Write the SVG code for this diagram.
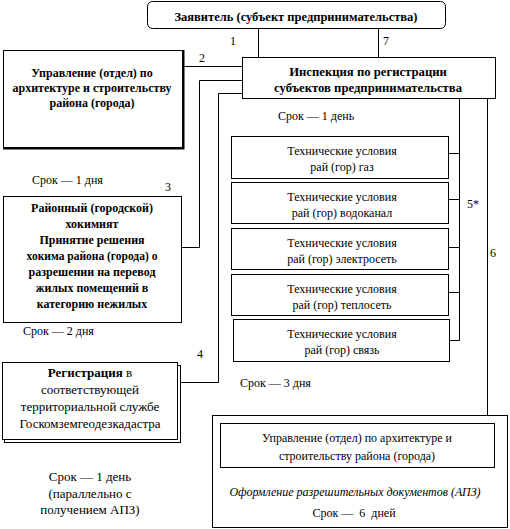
<svg xmlns="http://www.w3.org/2000/svg" width="510" height="529" viewBox="0 0 510 529">
<style>
.box{fill:#fff;stroke:#000;stroke-width:1}
.ln{fill:none;stroke:#000;stroke-width:1}
.th{fill:none;stroke:#000;stroke-width:2}
text{font-family:'Liberation Serif','Times New Roman',serif;font-size:12px;fill:#000}
.b{font-weight:bold}
.c{text-anchor:middle}
.l{font-size:13px}
.i{font-style:italic}
</style>
<rect width="510" height="529" fill="#fff"/>
<g id="connectors">
<path class="ln" d="M258.5 29V57M378.5 29V57"/>
<path class="ln" d="M183 66.5H242"/>
<path class="ln" d="M242 80.5H199.5V247.5H182"/>
<path class="ln" d="M242 93.5H218.5V382.5H181"/>
<path class="ln" d="M459.5 99V340.5M449 153.5H459.5M449 199.5H459.5M449 247.5H459.5M449 292.5H459.5M450 340.5H459.5"/>
<path class="ln" d="M487.5 99V415"/>
<text x="230" y="45">1</text>
<text x="383" y="45">7</text>
<text x="199" y="62">2</text>
<text x="165" y="191">3</text>
<text x="197" y="358">4</text>
<text x="467" y="208">5*</text>
<text x="490" y="257">6</text>
</g>
<g id="applicant">
<rect class="box" x="147.5" y="1.5" width="298" height="27" rx="5"/>
<text class="b c" x="296" y="21" style="font-size:12.5px">Заявитель (субъект предпринимательства)</text>
</g>
<g id="inspection">
<rect class="box" x="242.5" y="57.5" width="253" height="41"/>
<text class="b c" x="368" y="76" style="font-size:12.7px">Инспекция по регистрации</text>
<text class="b c" x="368" y="92" style="font-size:12.7px">субъектов предпринимательства</text>
<text x="278" y="120">Срок — 1 день</text>
</g>
<g id="arch-left">
<rect class="box" x="3.5" y="50.5" width="179" height="97"/>
<path class="th" d="M183.5 50V148.5H3"/>
<text class="b c" x="92" y="77">Управление (отдел) по</text>
<text class="b c" x="92" y="92">архитектуре и строительству</text>
<text class="b c" x="92" y="107">района (города)</text>
<text x="32" y="184">Срок — 1 дня</text>
</g>
<g id="hokimiyat">
<rect class="box" x="3.5" y="196.5" width="178" height="126"/>
<text class="b c" x="92" y="212">Районный (городской)</text>
<text class="b c" x="92" y="228">хокимият</text>
<text class="b c" x="92" y="244">Принятие решения</text>
<text class="b c" x="92" y="260" style="font-size:11.5px">хокима района (города) о</text>
<text class="b c" x="92" y="276">разрешении на перевод</text>
<text class="b c" x="92" y="292">жилых помещений в</text>
<text class="b c" x="92" y="308">категорию нежилых</text>
<text x="23" y="335">Срок — 2 дня</text>
</g>
<g id="registration">
<rect class="box" x="4.5" y="365.5" width="176" height="77"/>
<rect class="box" x="2.5" y="362.5" width="175" height="77"/>
<text class="c l" x="90" y="377"><tspan class="b">Регистрация</tspan> в</text>
<text class="c l" x="90" y="394">соответствующей</text>
<text class="c l" x="90" y="411">территориальной службе</text>
<text class="c l" x="90" y="428">Госкомземгеодезкадастра</text>
<text class="c l" x="90" y="481">Срок — 1 день</text>
<text class="c l" x="90" y="498">(параллельно с</text>
<text class="c l" x="90" y="514">получением АПЗ)</text>
</g>
<g id="tu-gas">
<rect class="box" x="231.5" y="136.5" width="217" height="42"/>
<text class="c" x="342" y="155">Технические условия</text>
<text class="c" x="342" y="171">рай (гор) газ</text>
</g>
<g id="tu-water">
<rect class="box" x="231.5" y="182.5" width="217" height="41"/>
<text class="c" x="342" y="201">Технические условия</text>
<text class="c" x="342" y="217">рай (гор) водоканал</text>
</g>
<g id="tu-elec">
<rect class="box" x="231.5" y="228.5" width="217" height="41"/>
<text class="c" x="342" y="247">Технические условия</text>
<text class="c" x="342" y="263">рай (гор) электросеть</text>
</g>
<g id="tu-heat">
<rect class="box" x="231.5" y="274.5" width="217" height="41"/>
<text class="c" x="342" y="293">Технические условия</text>
<text class="c" x="342" y="309">рай (гор) теплосеть</text>
</g>
<g id="tu-comm">
<rect class="box" x="233.5" y="319.5" width="216" height="42"/>
<text class="c" x="342" y="338">Технические условия</text>
<text class="c" x="342" y="354">рай (гор) связь</text>
<text x="240" y="387">Срок — 3 дня</text>
</g>
<g id="apz">
<rect class="box" x="212.5" y="415.5" width="295" height="112"/>
<rect class="box" x="220.5" y="423.5" width="274" height="44"/>
<text class="c" x="357" y="442">Управление (отдел) по архитектуре и</text>
<text class="c" x="357" y="460">строительству района (города)</text>
<text class="c i" x="355" y="496">Оформление разрешительных документов (АПЗ)</text>
<text class="c" x="354" y="517" xml:space="preserve">Срок —  6  дней</text>
</g>
</svg>
